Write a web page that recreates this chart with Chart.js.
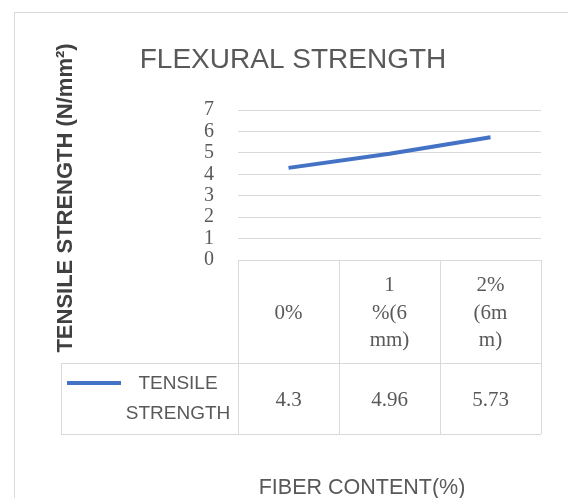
<!DOCTYPE html>
<html>
<head>
<meta charset="utf-8">
<script src="https://cdn.jsdelivr.net/npm/chart.js@4"></script>
<style>
  html, body { margin: 0; padding: 0; background: #fff; }
  #box { position: relative; width: 568px; height: 498px; }
</style>
</head>
<body>
<div id="box"><canvas id="grafico"></canvas></div>
<script>
// dados do gráfico
const categorias = [['0%'], ['1', '%(6', 'mm)'], ['2%', '(6m', 'm)']];
const tensile = [4.3, 4.96, 5.73];
const serieNome = ['TENSILE', 'STRENGTH'];
const titulo = 'FLEXURAL STRENGTH';
const tituloY = 'TENSILE STRENGTH (N/mm\u00B2)';
const tituloX = 'FIBER CONTENT(%)';

const cinza = '#595959';
const linha = '#d9d9d9';
const azul = '#4472C4';

// desenha moldura, titulos e a tabela de dados
const tabelaPlugin = {
  id: 'tabela',
  afterDraw(chart) {
    const ctx = chart.ctx;
    const area = chart.chartArea;
    const xs = chart.scales.x;
    const half = (xs.getPixelForValue(1) - xs.getPixelForValue(0)) / 2;
    const topo = area.bottom;
    const meio = 363;
    const fim = 434;
    const legX = 61;

    ctx.save();
    // moldura
    ctx.strokeStyle = linha;
    ctx.lineWidth = 1;
    ctx.strokeRect(14.5, 12.5, 600, 600);

    // linhas da tabela
    ctx.beginPath();
    for (let i = 0; i <= categorias.length; i++) {
      const x = Math.round(xs.getPixelForValue(0) - half + i * 2 * half) + 0.5;
      ctx.moveTo(x, topo);
      ctx.lineTo(x, fim);
    }
    ctx.moveTo(legX + 0.5, meio);
    ctx.lineTo(legX + 0.5, fim);
    ctx.moveTo(legX, meio + 0.5);
    ctx.lineTo(area.right, meio + 0.5);
    ctx.moveTo(legX, fim + 0.5);
    ctx.lineTo(area.right, fim + 0.5);
    ctx.stroke();

    // cabeçalho
    ctx.fillStyle = cinza;
    ctx.textAlign = 'center';
    ctx.textBaseline = 'middle';
    ctx.font = '21px "Liberation Serif", serif';
    categorias.forEach((c, i) => {
      const x = xs.getPixelForValue(i);
      const y0 = 313 - (c.length - 1) * 27.5 / 2;
      c.forEach((t, j) => ctx.fillText(t, x, y0 + j * 27.5));
    });
    // valores
    tensile.forEach((v, i) => {
      ctx.fillText(String(v), xs.getPixelForValue(i), 400);
    });

    // legenda
    ctx.strokeStyle = azul;
    ctx.lineWidth = 4;
    ctx.beginPath();
    ctx.moveTo(67, 383);
    ctx.lineTo(121, 383);
    ctx.stroke();
    ctx.font = '19px "Liberation Sans", sans-serif';
    ctx.fillText(serieNome[0], 178, 384);
    ctx.fillText(serieNome[1], 178, 414);

    // titulo
    ctx.font = '28px "Liberation Sans", sans-serif';
    ctx.fillText(titulo, 293, 60);

    // titulo eixo x
    ctx.font = '21.5px "Liberation Sans", sans-serif';
    ctx.fillText(tituloX, 362, 488);

    // titulo eixo y
    ctx.translate(66, 198);
    ctx.rotate(-Math.PI / 2);
    ctx.fillStyle = '#404040';
    ctx.font = 'bold 22px "Liberation Sans", sans-serif';
    ctx.fillText(tituloY, 0, 0);
    ctx.restore();
  }
};

const dataPrin = {
  labels: categorias,
  datasets: [{
    label: 'TENSILE STRENGTH',
    data: tensile,
    borderColor: azul,
    backgroundColor: azul,
    borderWidth: 4,
    pointRadius: 0,
    tension: 0,
  }]
};

const configPrin = {
  type: 'line',
  data: dataPrin,
  options: {
    responsive: false,
    animation: false,
    layout: { padding: { left: 0, right: 27, top: 110, bottom: 238 } },
    plugins: { legend: { display: false }, title: { display: false }, tooltip: { enabled: false } },
    scales: {
      x: { display: false, offset: true },
      y: {
        min: 0, max: 7,
        ticks: { stepSize: 1, autoSkip: false, padding: 24, color: cinza, font: { family: '"Liberation Serif", serif', size: 20 } },
        grid: { color: linha, drawTicks: false },
        border: { display: false },
        afterFit(scale) { scale.width = 238; }
      }
    }
  },
  plugins: [tabelaPlugin]
};

const canvas = document.getElementById('grafico');
canvas.width = 568;
canvas.height = 498;
const myChart = new Chart(canvas, configPrin);
</script>
</body>
</html>
